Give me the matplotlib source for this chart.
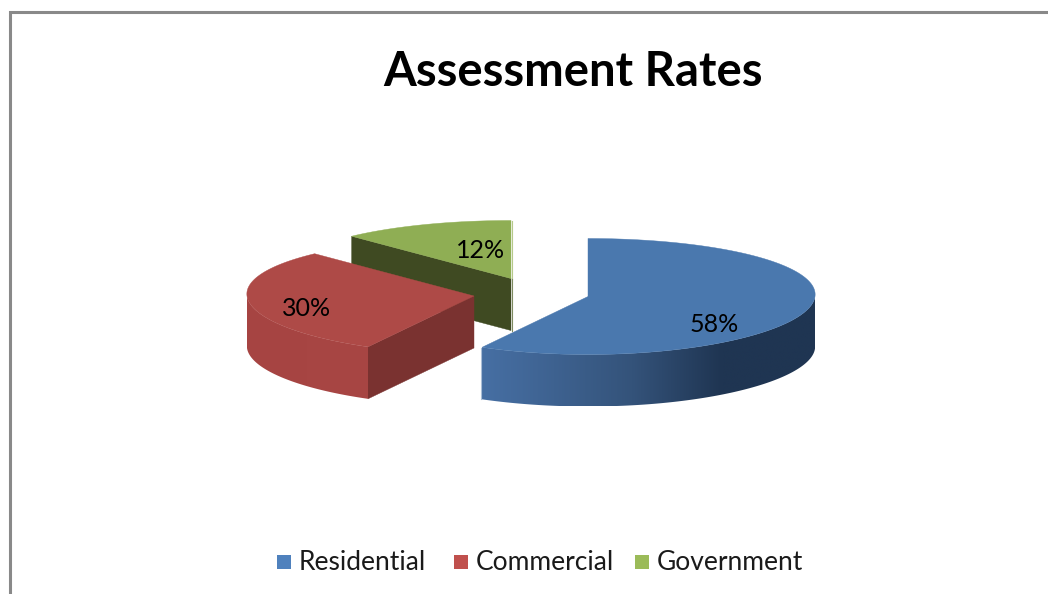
import numpy as np
import matplotlib
matplotlib.use('Agg')
import matplotlib.pyplot as plt
from matplotlib.colors import LinearSegmentedColormap
from matplotlib.patches import Polygon, Rectangle

categories = ['Residential', 'Commercial', 'Government']
shares = [58, 30, 12]
chart_title = 'Assessment Rates'

# layout, in pixels of the 1048x594 canvas
centers = [(588, 296.5), (474, 296), (511, 278.5)]
label_pos = [(714, 324), (307, 308), (481, 251)]
legend_box_x = [277, 454, 635]
legend_text_x = [299, 476, 657]
rx, ry, depth = 227, 58, 52
taper = 0.035

top_colors = ['#4a78ae', '#ae4a47', '#8fae54']
cut_colors = ['#1f3552', '#7a3230', '#3f4a22']
key_colors = ['#4f81bd', '#c0504d', '#9bbb59']

# side wall shading runs from left to right across each slice
wall_maps = [
    LinearSegmentedColormap.from_list('b', [(0, '#466fa3'), (0.12, '#426899'), (0.45, '#34537a'), (0.72, '#1f3552'), (1, '#1f3552')]),
    LinearSegmentedColormap.from_list('r', [(0, '#a64442'), (1, '#a84644')]),
]

font_list = ['Lato', 'DejaVu Sans']

fig = plt.figure(figsize=(10.48, 5.94), dpi=100)
ax = fig.add_axes([0, 0, 1, 1])
ax.axis('off')

# chart border, open on the right and at the bottom
ax.plot([9.5, 9.5, 1048], [594, 11.5, 11.5], color='#898989', lw=2.2, solid_joinstyle='miter')


def rim(cx, cy, a):
    # a is in degrees clockwise from twelve o'clock; rim narrows a little toward the front
    t = np.radians(a)
    return cx + rx * np.sin(t) * (1 + taper * np.cos(t)), cy - ry * np.cos(t)


edges = np.concatenate([[0], np.cumsum(shares)]) * 360.0 / sum(shares)

# back to front: government, commercial, residential
for i in [2, 1, 0]:
    cx, cy = centers[i]
    a0, a1 = edges[i], edges[i + 1]
    xs, ys = rim(cx, cy, np.linspace(a0, a1, 240))
    z = i * -3 + 7

    # straight cut face, visible only if it looks toward the viewer
    if 180 < a0 < 360:
        ex, ey = rim(cx, cy, a0)
        ax.add_patch(Polygon([(cx, cy), (ex, ey), (ex, ey + depth), (cx, cy + depth)],
                             fc=cut_colors[i], ec=cut_colors[i], lw=0.3, zorder=z))

    # curved outer wall, front half of the rim only
    lo, hi = max(a0, 90), min(a1, 270)
    if lo < hi:
        wx, wy = rim(cx, cy, np.linspace(lo, hi, 200))
        outline = Polygon(np.column_stack([np.r_[wx, wx[::-1]], np.r_[wy, wy[::-1] + depth]]),
                          transform=ax.transData, fc='none', ec='none')
        ax.add_patch(outline)
        ramp = np.linspace(0, 1, 256).reshape(1, -1)
        im = ax.imshow(ramp, cmap=wall_maps[i], aspect='auto', interpolation='bilinear', zorder=z,
                       extent=[wx.min(), wx.max(), wy.max() + depth, wy.min()])
        im.set_clip_path(outline)

    ax.add_patch(Polygon(np.column_stack([np.r_[cx, xs], np.r_[cy, ys]]),
                         fc=top_colors[i], ec=top_colors[i], lw=0.3, zorder=z + 1))

    ax.text(label_pos[i][0], label_pos[i][1], '%d%%' % shares[i], ha='center', va='center',
            fontsize=18, color='black', family=font_list, zorder=20)

# pale highlights along the slice edges
gx, gy = centers[2]
ax.plot([gx + 0.5, gx + 0.5], [gy - ry, gy], color='#b5c88a', lw=0.8, zorder=3)
ax.plot([gx + 0.5, gx + 0.5], [gy, gy + depth], color='#7d8a60', lw=0.8, zorder=3)
bx, by = rim(centers[0][0], centers[0][1], edges[1])
ax.plot([bx - 0.5, bx - 0.5], [by + 1, by + depth], color='#a9bdd6', lw=0.8, zorder=9)

ax.text(573, 72, chart_title, ha='center', va='center', fontsize=34, fontweight='bold',
        color='black', family=font_list)

for i, name in enumerate(categories):
    ax.add_patch(Rectangle((legend_box_x[i], 555), 13.5, 13.5, fc=key_colors[i], ec='none'))
    ax.text(legend_text_x[i], 563, name, ha='left', va='center', fontsize=19,
            color='#1a1a1a', family=font_list)

ax.set_xlim(0, 1048)
ax.set_ylim(594, 0)

fig.savefig('out.png', dpi=100)
